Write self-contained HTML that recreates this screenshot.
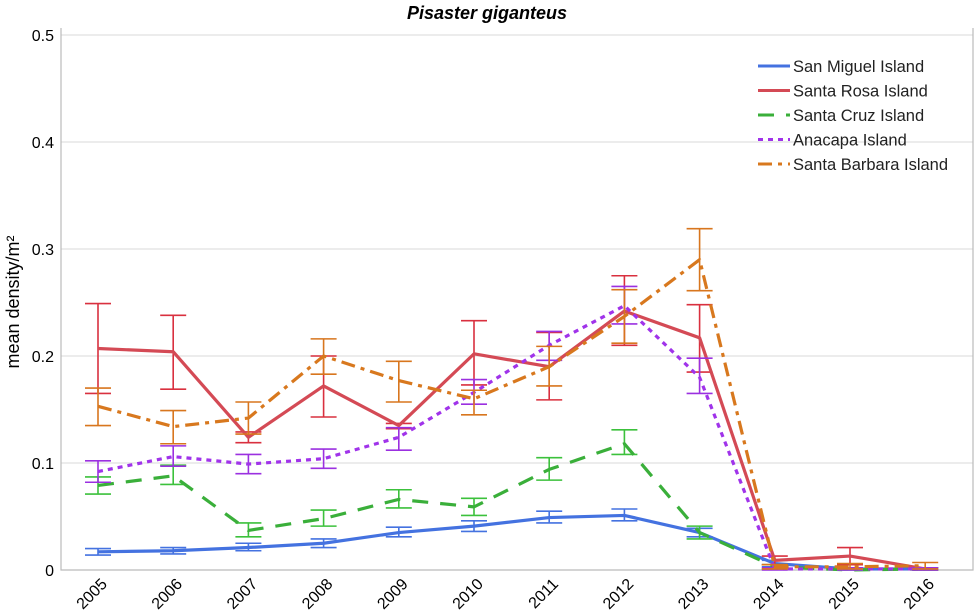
<!DOCTYPE html>
<html><head><meta charset="utf-8"><style>
body{margin:0;background:#fff;}
svg{display:block;font-family:"Liberation Sans",sans-serif;}
</style></head><body>
<svg id="chart" width="975" height="613">
<text x="487" y="19" text-anchor="middle" font-size="18" font-weight="bold" font-style="italic">Pisaster giganteus</text>
<text transform="translate(19,302) rotate(-90)" text-anchor="middle" font-size="18">mean density/m²</text>
<g id="grid"></g><g id="axes"></g><g id="series"></g><g id="legend"></g>
</svg>
<script>
const years=[2005,2006,2007,2008,2009,2010,2011,2012,2013,2014,2015,2016];
const yTicks=[0,0.1,0.2,0.3,0.4,0.5];
const yTickLabels=["0","0.1","0.2","0.3","0.4","0.5"];
const sanMiguel=[0.017,0.018,0.021,0.025,0.035,0.041,0.049,0.051,0.035,0.006,0.001,0.001];
const sanMiguelLo=[0.014,0.015,0.018,0.021,0.031,0.036,0.044,0.046,0.031,0.003,0.0,0.0];
const sanMiguelHi=[0.020,0.021,0.025,0.029,0.040,0.046,0.055,0.057,0.039,0.009,0.002,0.002];
const santaRosa=[0.207,0.204,0.124,0.172,0.135,0.202,0.190,0.242,0.217,0.009,0.013,0.001];
const santaRosaLo=[0.165,0.169,0.119,0.143,0.132,0.173,0.159,0.210,0.185,0.005,0.005,0.0];
const santaRosaHi=[0.249,0.238,0.129,0.200,0.137,0.233,0.222,0.275,0.248,0.013,0.021,0.002];
const santaCruz=[0.079,0.088,0.037,0.048,0.066,0.059,0.094,0.118,0.035,0.003,0.0,0.001];
const santaCruzLo=[0.071,0.080,0.031,0.041,0.058,0.051,0.084,0.108,0.029,0.001,0.0,0.0];
const santaCruzHi=[0.087,0.098,0.044,0.056,0.075,0.067,0.105,0.131,0.041,0.005,0.001,0.002];
const anacapa=[0.092,0.106,0.099,0.104,0.124,0.166,0.210,0.247,0.180,0.001,0.001,0.001];
const anacapaLo=[0.082,0.097,0.090,0.095,0.112,0.155,0.196,0.230,0.165,0.0,0.0,0.0];
const anacapaHi=[0.102,0.116,0.108,0.113,0.133,0.178,0.223,0.265,0.198,0.002,0.002,0.002];
const santaBarbara=[0.153,0.134,0.142,0.200,0.177,0.160,0.190,0.237,0.290,0.003,0.003,0.004];
const santaBarbaraLo=[0.135,0.118,0.127,0.183,0.157,0.145,0.172,0.212,0.261,0.001,0.001,0.001];
const santaBarbaraHi=[0.170,0.149,0.157,0.216,0.195,0.168,0.209,0.262,0.319,0.005,0.006,0.007];
const seriesNames=["San Miguel Island","Santa Rosa Island","Santa Cruz Island","Anacapa Island","Santa Barbara Island"];

const NS="http://www.w3.org/2000/svg";
const L=61,R=973,T=28,B=570;
const x=i=>98+i*75.2;
const y=v=>B-v*1070;
function mk(tag,attrs,parent){const e=document.createElementNS(NS,tag);for(const k in attrs)e.setAttribute(k,attrs[k]);parent.appendChild(e);return e;}
const grid=document.getElementById('grid'),axes=document.getElementById('axes'),ser=document.getElementById('series'),leg=document.getElementById('legend');
yTicks.forEach((t,i)=>{
  if(t>0){const g=mk('line',{x1:L,x2:R,y1:y(t),y2:y(t),stroke:'#e6e6e6','stroke-width':1.5},grid);
  
  }
  const tx=mk('text',{x:54,y:y(t)+6,'text-anchor':'end','font-size':16},axes);tx.textContent=yTickLabels[i];
  
  
});
const frame=mk('path',{d:`M${L},${T}V${B}H${R}V${T}`,fill:'none',stroke:'#bbb','stroke-width':1.2},axes);


years.forEach((yr,i)=>{
  const tx=mk('text',{transform:`translate(${x(i)+10},${B+15}) rotate(-45)`,'text-anchor':'end','font-size':16},axes);tx.textContent=yr;
  
  
});
const defs=[
 {v:sanMiguel,lo:sanMiguelLo,hi:sanMiguelHi,c:'#4472e0',line:'#4472e0',dash:'',key:'san-miguel'},
 {v:santaRosa,lo:santaRosaLo,hi:santaRosaHi,c:'#d9303f',line:'#d44a55',dash:'',key:'santa-rosa'},
 {v:santaCruz,lo:santaCruzLo,hi:santaCruzHi,c:'#3cc13c',line:'#3aaf3a',dash:'16,12',key:'santa-cruz'},
 {v:anacapa,lo:anacapaLo,hi:anacapaHi,c:'#9b30e0',line:'#a033ea',dash:'5,5',key:'anacapa'},
 {v:santaBarbara,lo:santaBarbaraLo,hi:santaBarbaraHi,c:'#d8761e',line:'#d8781e',dash:'14,6,4,6',key:'santa-barbara'}
];
defs.forEach((s,si)=>{
  const g=mk('g',{},ser);
  
  
  s.v.forEach((v,i)=>{
    const cx=x(i);
    const eb=mk('path',{d:`M${cx},${y(s.lo[i])}V${y(s.hi[i])}M${cx-13},${y(s.lo[i])}H${cx+13}M${cx-13},${y(s.hi[i])}H${cx+13}`,stroke:s.c,'stroke-width':1.6,fill:'none'},g);
    
    
  });
  const ln=mk('polyline',{points:s.v.map((v,i)=>x(i)+','+y(v)).join(' '),fill:'none',stroke:s.line,'stroke-width':3.2,'stroke-dasharray':s.dash,'stroke-linejoin':'round'},g);
  
  
  const ly=66+si*24.5;
  const le=mk('g',{},leg);
  
  
  mk('line',{x1:758,x2:790,y1:ly,y2:ly,stroke:s.line,'stroke-width':3,'stroke-dasharray':s.dash},le);
  const t=mk('text',{x:793,y:ly+6,'font-size':16.5,fill:'#222'},le);t.textContent=seriesNames[si];
});
</script>
</body></html>
